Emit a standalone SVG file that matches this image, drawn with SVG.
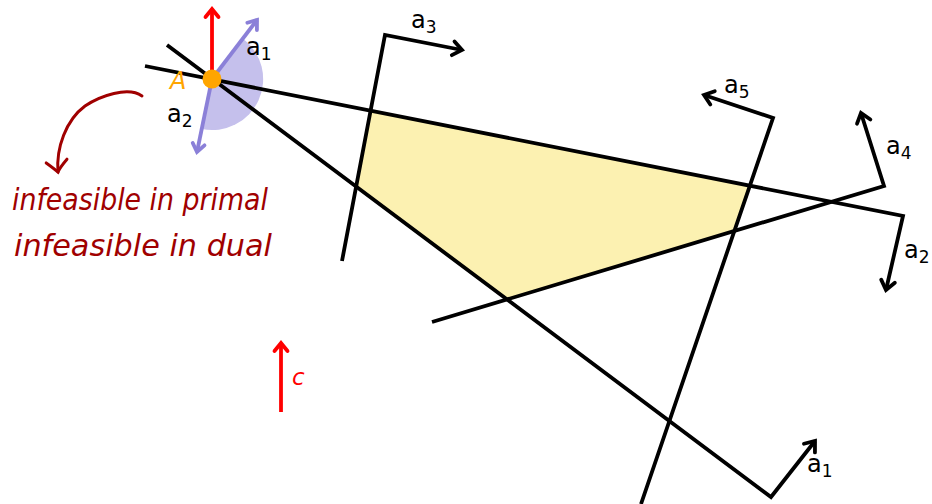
<svg xmlns="http://www.w3.org/2000/svg" width="932" height="504" viewBox="0 0 932 504">
<style>
.ln{fill:none;stroke:#000;stroke-width:3.8;stroke-linejoin:miter}
.lbl{font-family:"DejaVu Sans","Liberation Sans",sans-serif;font-size:24px;fill:#000}
.sub{font-size:17px}
.hw{font-family:"DejaVu Sans","Liberation Sans",sans-serif;font-style:italic;font-size:30px;fill:#a00000}
</style>
<defs>
<marker id="ab" markerUnits="userSpaceOnUse" markerWidth="24" markerHeight="24" viewBox="-12 -12 24 24" refX="0" refY="0" orient="auto"><path d="M-9,-7 L0,0 L-9,7" fill="none" stroke="#000" stroke-width="3.8" stroke-linecap="round" stroke-linejoin="miter"/></marker>
<marker id="ap" markerUnits="userSpaceOnUse" markerWidth="24" markerHeight="24" viewBox="-12 -12 24 24" refX="0" refY="0" orient="auto"><path d="M-8,-6 L0,0 L-8,6" fill="none" stroke="#8b80d8" stroke-width="3.8" stroke-linecap="round"/></marker>
<marker id="ar" markerUnits="userSpaceOnUse" markerWidth="24" markerHeight="24" viewBox="-12 -12 24 24" refX="0" refY="0" orient="auto"><path d="M-8,-6.5 L0,0 L-8,6.5" fill="none" stroke="#ff0000" stroke-width="3.8" stroke-linecap="round"/></marker>
<marker id="ah" markerUnits="userSpaceOnUse" markerWidth="30" markerHeight="30" viewBox="-15 -15 30 30" refX="0" refY="0" orient="auto"><path d="M-12,-10 Q-4,-2 0,0 Q-4,4 -10,11" fill="none" stroke="#a00000" stroke-width="3" stroke-linecap="round"/></marker>
</defs>
<g id="feasible-region">
<polygon points="370,111 749.7,185.7 734.5,231 507.4,299.6 356.5,186.5" fill="#fcf1b1"/>
</g>
<g id="sector">
<path d="M212,79 L242.9,38.4 A51,51 0 0 1 201.7,129 Z" fill="#c5c0ec"/>
</g>
<g id="connectors">
<polyline id="line-a3" class="ln" points="342,261 385,35 462,50" marker-end="url(#ab)"/>
<polyline id="line-a2" class="ln" points="145,66 903,216 886,290" marker-end="url(#ab)"/>
<polyline id="line-a1" class="ln" points="167,45 771,497 815,441" marker-end="url(#ab)"/>
<polyline id="line-a4" class="ln" points="432,322 884,186 861,113" marker-end="url(#ab)"/>
<polyline id="line-a5" class="ln" points="641,504 773,118 704,95" marker-end="url(#ab)"/>
<line x1="212" y1="79" x2="257" y2="20" stroke="#8b80d8" stroke-width="3.8" marker-end="url(#ap)"/>
<line x1="212" y1="79" x2="197" y2="152" stroke="#8b80d8" stroke-width="3.8" marker-end="url(#ap)"/>
<line x1="212" y1="79" x2="212" y2="9" stroke="#ff0000" stroke-width="3.8" marker-end="url(#ar)"/>
<line x1="281" y1="412" x2="281" y2="343" stroke="#ff0000" stroke-width="3.8" marker-end="url(#ar)"/>
<path d="M142,96 C128,86 100,96 85,106 C66,120 56,148 58,172" fill="none" stroke="#a00000" stroke-width="3" stroke-linecap="round" marker-end="url(#ah)"/>
</g>
<g id="node-A">
<circle cx="212" cy="79" r="9.5" fill="#ffa500"/>
<text x="170" y="89" font-family="DejaVu Sans, sans-serif" font-style="italic" font-size="24" fill="#ffa500">A</text>
</g>
<g id="labels">
<text class="lbl" x="246" y="55">a<tspan class="sub" dy="5">1</tspan></text>
<text class="lbl" x="167" y="122">a<tspan class="sub" dy="5">2</tspan></text>
<text class="lbl" x="411" y="28">a<tspan class="sub" dy="5">3</tspan></text>
<text class="lbl" x="724" y="93">a<tspan class="sub" dy="5">5</tspan></text>
<text class="lbl" x="886" y="154">a<tspan class="sub" dy="5">4</tspan></text>
<text class="lbl" x="904" y="258">a<tspan class="sub" dy="5">2</tspan></text>
<text class="lbl" x="807" y="472">a<tspan class="sub" dy="5">1</tspan></text>
<text x="292" y="385" font-family="DejaVu Sans, sans-serif" font-style="italic" font-size="23" fill="#ff0000">c</text>
</g>
<g id="note">
<text class="hw" x="12" y="210" textLength="256" lengthAdjust="spacingAndGlyphs">infeasible in primal</text>
<text class="hw" x="14" y="256" textLength="258" lengthAdjust="spacingAndGlyphs">infeasible in dual</text>
</g>
</svg>
